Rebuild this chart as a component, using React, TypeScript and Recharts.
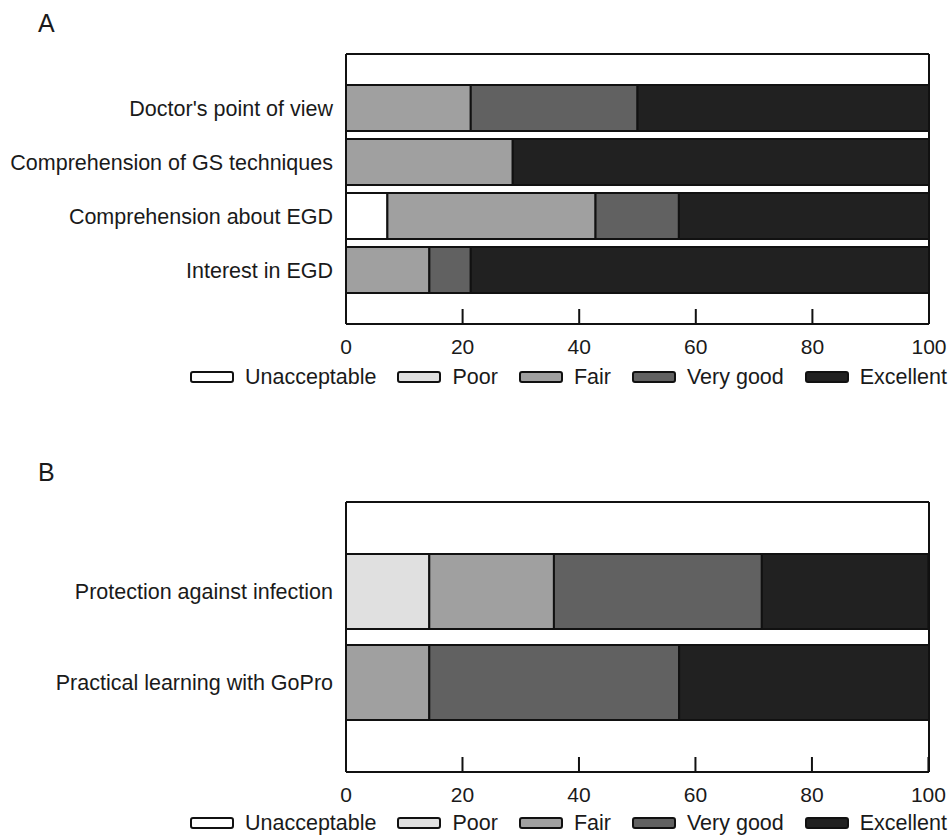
import React from 'react';
import { BarChart, Bar, XAxis, YAxis, Legend, CartesianGrid } from 'recharts';

// rating levels, shared by both panels
const levels = ['Unacceptable', 'Poor', 'Fair', 'Very good', 'Excellent'];
const levelColors = ['#ffffff', '#e0e0e0', '#a0a0a0', '#616161', '#212121'];
const xTicks = [0, 20, 40, 60, 80, 100];

// panel A
const categoriesA = [
  "Doctor's point of view",
  'Comprehension of GS techniques',
  'Comprehension about EGD',
  'Interest in EGD',
];
const unacceptableA = [0, 0, 7.1, 0];
const poorA = [0, 0, 0, 0];
const fairA = [21.4, 28.6, 35.7, 14.3];
const veryGoodA = [28.6, 0, 14.3, 7.1];
const excellentA = [50, 71.4, 42.9, 78.6];

// panel B
const categoriesB = ['Protection against infection', 'Practical learning with GoPro'];
const unacceptableB = [0, 0];
const poorB = [14.3, 0];
const fairB = [21.4, 14.3];
const veryGoodB = [35.7, 42.9];
const excellentB = [28.6, 42.9];

const buildRows = (cats: string[], series: number[][]) =>
  cats.map((name, i) => {
    const row: Record<string, any> = { name };
    levels.forEach((lv, j) => {
      row[lv] = series[j][i];
    });
    return row;
  });

const dataA = buildRows(categoriesA, [unacceptableA, poorA, fairA, veryGoodA, excellentA]);
const dataB = buildRows(categoriesB, [unacceptableB, poorB, fairB, veryGoodB, excellentB]);

const FONT = '"Liberation Sans", Arial, sans-serif';

// tick mark points inward (up), label below the axis
const XTick = (props: any) => {
  const { x, y, payload } = props;
  return (
    <g>
      <line x1={x} y1={y} x2={x} y2={y - 15} stroke="#111" strokeWidth={2} />
      <text
        x={x}
        y={y + 23}
        dy="0.35em"
        textAnchor="middle"
        fill="#1a1a1a"
        fontSize={21}
        fontFamily={FONT}
      >
        {payload.value}
      </text>
    </g>
  );
};

const LegendRow = () => (
  <div
    style={{
      display: 'flex',
      alignItems: 'center',
      marginLeft: 190,
      fontFamily: FONT,
      fontSize: 21.5,
      color: '#1a1a1a',
      lineHeight: '24px',
      whiteSpace: 'nowrap',
    }}
  >
    {levels.map((lv, i) => (
      <div key={lv} style={{ display: 'flex', alignItems: 'center', marginRight: 21 }}>
        <span
          style={{
            display: 'inline-block',
            width: 40,
            height: 8,
            background: levelColors[i],
            border: '2px solid #111',
            borderRadius: 3,
            marginRight: 11,
          }}
        />
        <span>{lv}</span>
      </div>
    ))}
  </div>
);

// frame lines on the plot edges, taken from the chart's own offset
const frameH = ({ offset }: any) => [offset.top, offset.top + offset.height];
const frameV = ({ offset }: any) => [offset.left, offset.left + offset.width];

interface PanelProps {
  data: Record<string, any>[];
  height: number;
  top: number;
  bottom: number;
  pad: number;
  gap: number;
  legendTop: number;
}

const Panel: React.FC<PanelProps> = ({ data, height, top, bottom, pad, gap, legendTop }) => (
  <BarChart
    width={952}
    height={height}
    data={data}
    layout="vertical"
    margin={{ top, right: 23, left: 0, bottom }}
    barCategoryGap={gap}
  >
    <CartesianGrid
      stroke="#111"
      strokeWidth={2}
      horizontalCoordinatesGenerator={frameH}
      verticalCoordinatesGenerator={frameV}
    />
    <XAxis
      type="number"
      domain={[0, 100]}
      ticks={xTicks}
      height={30}
      tickSize={0}
      tickMargin={0}
      tickLine={false}
      tick={<XTick />}
      axisLine={{ stroke: '#111', strokeWidth: 2 }}
    />
    <YAxis
      type="category"
      dataKey="name"
      width={346}
      padding={{ top: pad, bottom: pad }}
      tickSize={0}
      tickMargin={13}
      tickLine={false}
      axisLine={{ stroke: '#111', strokeWidth: 2 }}
      tick={{ fontSize: 21.5, fontFamily: FONT, fill: '#1a1a1a' }}
      interval={0}
    />
    <Legend
      layout="horizontal"
      verticalAlign="middle"
      align="center"
      wrapperStyle={{ top: legendTop, left: 0, width: 952 }}
      content={() => <LegendRow />}
    />
    {levels.map((lv, i) => (
      <Bar
        key={lv}
        dataKey={lv}
        stackId="s"
        fill={levelColors[i]}
        stroke="#111"
        strokeWidth={2}
        isAnimationActive={false}
      />
    ))}
  </BarChart>
);

const letterStyle: React.CSSProperties = {
  position: 'absolute',
  left: 38,
  fontFamily: FONT,
  fontSize: 25,
  lineHeight: '28px',
  color: '#1a1a1a',
};

export default function App() {
  return (
    <div
      style={{
        position: 'absolute',
        left: 0,
        top: 0,
        width: 952,
        height: 835,
        background: '#fff',
        overflow: 'hidden',
      }}
    >
      <div style={{ ...letterStyle, top: 9 }}>A</div>
      <div style={{ ...letterStyle, top: 458 }}>B</div>
      <div style={{ position: 'absolute', left: 0, top: 0 }}>
        <Panel data={dataA} height={400} top={54} bottom={46} pad={27} gap={4} legendTop={365} />
      </div>
      <div style={{ position: 'absolute', left: 0, top: 450 }}>
        <Panel data={dataB} height={385} top={52} bottom={33} pad={44} gap={8} legendTop={361} />
      </div>
    </div>
  );
}
